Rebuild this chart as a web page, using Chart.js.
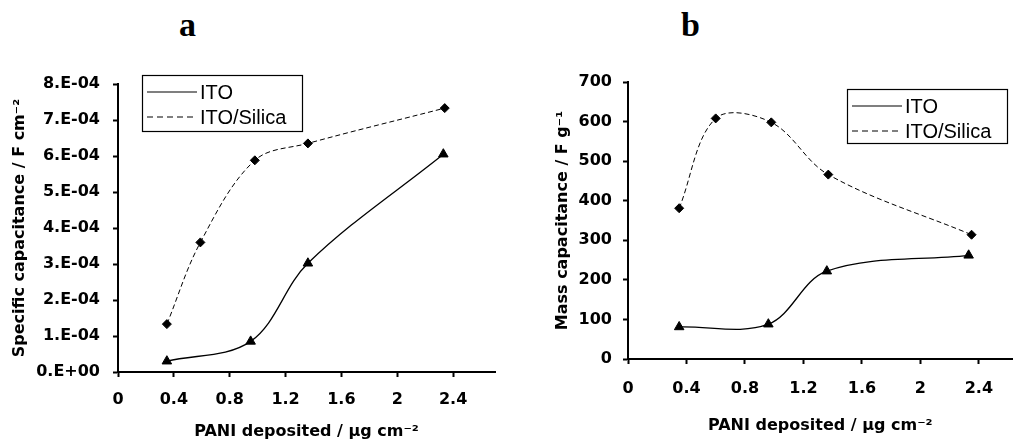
<!DOCTYPE html>
<html>
<head>
<meta charset="utf-8">
<script src="https://cdn.jsdelivr.net/npm/chart.js@4.4.0/dist/chart.umd.min.js"></script>
<style>
body { margin: 0; background: #fff; width: 1019px; height: 442px; overflow: hidden; position: relative; }
.panel { position: absolute; top: 0; height: 442px; }
.letra { position: absolute; font-family: "Liberation Serif", "Times New Roman", serif; font-weight: bold; font-size: 34px; line-height: 1; }
</style>
</head>
<body>
<div class="letra" style="left:179px;top:8px">a</div>
<div class="letra" style="left:681px;top:8px">b</div>
<div class="panel" style="left:0;width:510px"><canvas id="graficoA" width="510" height="442"></canvas></div>
<div class="panel" style="left:520px;width:499px"><canvas id="graficoB" width="499" height="442"></canvas></div>
<script>
// ---- datos ----
var series = ["ITO", "ITO/Silica"];

var xA_ito = [0.35, 0.95, 1.36, 2.33];
var yA_ito = [0.30e-4, 0.85e-4, 3.02e-4, 6.05e-4];
var xA_sil = [0.35, 0.59, 0.98, 1.36, 2.34];
var yA_sil = [1.33e-4, 3.60e-4, 5.88e-4, 6.35e-4, 7.33e-4];

var xB_ito = [0.35, 0.96, 1.36, 2.33];
var yB_ito = [81, 88, 222, 262];
var xB_sil = [0.35, 0.60, 0.98, 1.37, 2.35];
var yB_sil = [381, 608, 598, 466, 314];

var xTickVals = [0, 0.4, 0.8, 1.2, 1.6, 2, 2.4];
var xTickLabels = ["0", "0.4", "0.8", "1.2", "1.6", "2", "2.4"];
var yTickValsA = [0, 1e-4, 2e-4, 3e-4, 4e-4, 5e-4, 6e-4, 7e-4, 8e-4];
var yTickLabelsA = ["0.E+00", "1.E-04", "2.E-04", "3.E-04", "4.E-04", "5.E-04", "6.E-04", "7.E-04", "8.E-04"];
var yTickValsB = [0, 100, 200, 300, 400, 500, 600, 700];
var yTickLabelsB = ["0", "100", "200", "300", "400", "500", "600", "700"];

function puntos(xs, ys) {
    var p = [];
    for (var i = 0; i < xs.length; i++) p.push({ x: xs[i], y: ys[i] });
    return p;
}

// leyenda con recuadro dentro del area
var leyendaCaja = {
    id: "leyendaCaja",
    afterDraw: function (chart, args, opts) {
        var ctx = chart.ctx;
        ctx.save();
        ctx.strokeStyle = "#000";
        ctx.lineWidth = 1.2;
        ctx.strokeRect(opts.left + 0.5, opts.top + 0.5, opts.width, opts.height);
        ctx.font = "20px 'Liberation Sans', Arial, sans-serif";
        ctx.textBaseline = "middle";
        ctx.fillStyle = "#000";
        chart.data.datasets.forEach(function (ds, i) {
            var y = opts.top + 17 + i * 25;
            ctx.beginPath();
            ctx.lineWidth = 1.2;
            ctx.setLineDash(ds.borderDash ? [6, 4] : []);
            ctx.moveTo(opts.left + 5, y);
            ctx.lineTo(opts.left + 55, y);
            ctx.stroke();
            ctx.setLineDash([]);
            ctx.fillText(ds.label, opts.left + 58, y + 1);
        });
        ctx.restore();
    }
};

function dataset(label, data, estilo, dashed) {
    return {
        label: label,
        data: data,
        borderColor: "#000",
        backgroundColor: "#000",
        borderWidth: dashed ? 1 : 1.3,
        borderDash: dashed ? [5, 3] : undefined,
        tension: 0.35,
        pointStyle: estilo,
        pointRadius: estilo === "triangle" ? 5.5 : 4.5,
        pointBorderWidth: 1,
        pointBorderColor: "#000",
        pointBackgroundColor: "#000"
    };
}

function crearGrafico(id, cfg) {
    var fuente = { family: "'DejaVu Sans', sans-serif", size: 16, weight: "bold" };
    return new Chart(document.getElementById(id), {
        type: "line",
        data: {
            datasets: [
                dataset(series[0], cfg.ito, "triangle", false),
                dataset(series[1], cfg.sil, "rectRot", true)
            ]
        },
        plugins: [leyendaCaja],
        options: {
            responsive: false,
            animation: false,
            layout: { padding: { top: cfg.top, right: cfg.right, bottom: 0, left: 0 } },
            plugins: {
                legend: { display: false },
                tooltip: { enabled: false },
                leyendaCaja: cfg.leyenda
            },
            scales: {
                x: {
                    type: "linear",
                    min: 0,
                    max: cfg.xMax,
                    afterBuildTicks: function (s) { s.ticks = xTickVals.map(function (v) { return { value: v }; }); },
                    afterFit: function (s) { s.height = cfg.xAlto; },
                    ticks: {
                        color: "#000",
                        font: fuente,
                        padding: cfg.xPad,
                        maxRotation: 0,
                        autoSkip: false,
                        callback: function (v, i) { return xTickLabels[i]; }
                    },
                    grid: { drawOnChartArea: false, tickLength: 5, tickColor: "#000", tickWidth: 2 },
                    border: { color: "#000", width: 2 },
                    title: {
                        display: true,
                        text: "PANI deposited / \u03bcg cm\u207b\u00b2",
                        color: "#000",
                        font: fuente,
                        padding: { top: 0, bottom: cfg.xTitPad }
                    }
                },
                y: {
                    min: 0,
                    max: cfg.yMax,
                    afterBuildTicks: function (s) { s.ticks = cfg.yVals.map(function (v) { return { value: v }; }); },
                    afterFit: function (s) { s.width = cfg.yAncho; },
                    ticks: {
                        color: "#000",
                        font: fuente,
                        padding: cfg.yPad,
                        autoSkip: false,
                        callback: function (v, i) { return cfg.yLabels[i]; }
                    },
                    grid: { drawOnChartArea: false, tickLength: 5, tickColor: "#000", tickWidth: 2 },
                    border: { color: "#000", width: 2 },
                    title: {
                        display: true,
                        text: cfg.yTitulo,
                        color: "#000",
                        font: fuente,
                        padding: { top: cfg.yTitPad, bottom: 0 }
                    }
                }
            }
        }
    });
}

crearGrafico("graficoA", {
    ito: puntos(xA_ito, yA_ito),
    sil: puntos(xA_sil, yA_sil),
    top: 84, right: 15, xMax: 2.7, xAlto: 70, yAncho: 118,
    xPad: 13, yPad: 13, xTitPad: 0.5, yTitPad: 10,
    yMax: 8e-4, yVals: yTickValsA, yLabels: yTickLabelsA,
    yTitulo: "Specific capacitance / F cm\u207b\u00b2",
    leyenda: { left: 142, top: 75, width: 160, height: 56 }
});

crearGrafico("graficoB", {
    ito: puntos(xB_ito, yB_ito),
    sil: puntos(xB_sil, yB_sil),
    top: 82, right: 0, xMax: 2.63, xAlto: 83, yAncho: 108,
    xPad: 15, yPad: 11, xTitPad: 7, yTitPad: 33,
    yMax: 700, yVals: yTickValsB, yLabels: yTickLabelsB,
    yTitulo: "Mass capacitance / F g\u207b\u00b9",
    leyenda: { left: 327, top: 89, width: 160, height: 54 }
});
</script>
</body>
</html>
